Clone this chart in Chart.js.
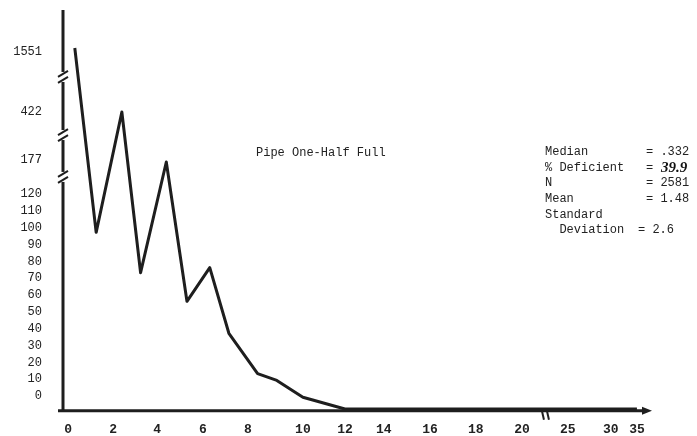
<!DOCTYPE html>
<html>
<head>
<meta charset="UTF-8">
<title>Pipe One-Half Full</title>
<script src="https://cdn.jsdelivr.net/npm/chart.js"></script>
<style>
  html, body { margin: 0; padding: 0; background: #fff; }
  #wrap { width: 697px; height: 436px; }
</style>
</head>
<body>
<div id="wrap"><canvas id="chart"></canvas></div>
<script>
// values
const xValues   = [0.3, 1.25, 2.4, 3.25, 4.4, 5.3, 6.3, 7.15, 8.35, 9.05, 10, 12, 14, 16, 18, 20, 25, 30, 35];
const frequency = [1551, 105, 422, 81, 177, 64, 84, 45, 21, 17, 7, 0, 0, 0, 0, 0, 0, 0, 0];

const xTickLabels = [0, 2, 4, 6, 8, 10, 12, 14, 16, 18, 20, 25, 30, 35];
const yTickLabels = [0, 10, 20, 30, 40, 50, 60, 70, 80, 90, 100, 110, 120, 177, 422, 1551];

const stats = [
  ['Median', '= .332'],
  ['% Deficient', '= '],
  ['N', '= 2581'],
  ['Mean', '= 1.48'],
  ['Standard', ''],
  ['  Deviation', '= 2.6']
];
const handNote = '39.9';

// the hand-drawn axes are not evenly spaced: map values onto them piecewise
const xAxisStops = [0, 2.0, 3.96, 6.0, 8.0, 10.44, 12.31, 14.04, 16.09, 18.13, 20.18, 22.22, 24.13, 25.29];
const yBreaks = [[120, 120], [177, 146.8], [422, 176.5], [1551, 214.5]];
const yBreakLabelStops = [148, 176.5, 212];

function piecewise(v, from, to) {
  if (v <= from[0]) return to[0];
  for (let i = 1; i < from.length; i++) {
    if (v <= from[i]) {
      const t = (v - from[i - 1]) / (from[i] - from[i - 1]);
      return to[i - 1] + t * (to[i] - to[i - 1]);
    }
  }
  return to[to.length - 1];
}
const xPos = v => piecewise(v, xTickLabels, xAxisStops);
function yPos(v) {
  if (v <= 120) return v;
  return piecewise(v, yBreaks.map(b => b[0]), yBreaks.map(b => b[1]));
}
// typed labels sit a little above their marks on the low part
function yLabelPos(v) {
  if (v <= 120) return v + 7.7;
  return yBreakLabelStops[yBreaks.findIndex(b => b[0] === v) - 1];
}

const points = xValues.map((x, i) => ({ x: xPos(x), y: yPos(frequency[i]) }));

const ink = '#1e1e1e';
const typeFont = '"Liberation Mono", "DejaVu Sans Mono", monospace';

const decor = {
  id: 'decor',
  afterDraw(chart) {
    const { ctx, chartArea: a } = chart;
    const xs = chart.scales.x, ys = chart.scales.y;
    ctx.save();
    ctx.strokeStyle = ink;
    ctx.fillStyle = ink;
    ctx.lineCap = 'butt';

    // y axis
    ctx.lineWidth = 3;
    ctx.beginPath();
    ctx.moveTo(a.left - 1, a.top);
    ctx.lineTo(a.left - 1, a.bottom + 1);
    ctx.stroke();

    // x axis with arrow
    ctx.beginPath();
    ctx.moveTo(a.left - 6, a.bottom);
    ctx.lineTo(a.right - 6, a.bottom);
    ctx.stroke();
    ctx.beginPath();
    ctx.moveTo(a.right, a.bottom);
    ctx.lineTo(a.right - 10, a.bottom - 4);
    ctx.lineTo(a.right - 10, a.bottom + 4);
    ctx.closePath();
    ctx.fill();

    // breaks on the y axis
    [197.3, 162.8, 137.9].forEach(u => {
      const y = ys.getPixelForValue(u);
      const x = a.left - 1;
      ctx.fillStyle = '#fff';
      ctx.fillRect(x - 3, y - 5, 6, 10);
      ctx.lineWidth = 2;
      [-3, 3].forEach(s => {
        ctx.beginPath();
        ctx.moveTo(x - 5, y + s + 3);
        ctx.lineTo(x + 5, y + s - 3);
        ctx.stroke();
      });
    });

    // break on the x axis
    const bx = xs.getPixelForValue(21.2);
    ctx.lineWidth = 2;
    [-3, 2].forEach(d => {
      ctx.beginPath();
      ctx.moveTo(bx + d, a.bottom);
      ctx.lineTo(bx + d + 2, a.bottom + 9);
      ctx.stroke();
    });

    // typed notes
    ctx.fillStyle = '#222';
    ctx.font = '12px ' + typeFont;
    ctx.textBaseline = 'middle';
    ctx.textAlign = 'left';
    ctx.fillText('Pipe One-Half Full', 256, 153);

    stats.forEach((row, i) => {
      const y = 152 + i * 15.6;
      ctx.fillText(row[0], 545, y);
      if (row[1]) ctx.fillText(row[1], i === 5 ? 638 : 646, y);
    });
    ctx.font = 'bold italic 15px "Liberation Serif", serif';
    ctx.fillStyle = '#111';
    ctx.fillText(handNote, 661, 168);
    ctx.restore();
  }
};

new Chart(document.getElementById('chart'), {
  type: 'line',
  data: {
    datasets: [{
      data: points,
      borderColor: ink,
      borderWidth: 3,
      pointRadius: 0,
      tension: 0,
      borderJoinStyle: 'round',
      fill: false
    }]
  },
  options: {
    responsive: true,
    maintainAspectRatio: false,
    animation: false,
    layout: { padding: { top: 10, right: 45, left: 0, bottom: 0 } },
    plugins: { legend: { display: false }, tooltip: { enabled: false } },
    scales: {
      x: {
        type: 'linear',
        min: -0.18,
        max: 25.96,
        grid: { display: false, drawTicks: false },
        border: { display: false },
        afterBuildTicks: s => { s.ticks = xTickLabels.map(v => ({ value: xPos(v) })); },
        afterFit: s => { s.height = 25.3; s.paddingLeft = 0; s.paddingRight = 0; },
        ticks: {
          autoSkip: false,
          maxRotation: 0,
          padding: 11,
          color: '#222',
          font: { family: typeFont, size: 13, weight: 'bold' },
          callback: (v, i) => xTickLabels[i]
        }
      },
      y: {
        type: 'linear',
        min: -1,
        max: 237.1,
        grid: { display: false, drawTicks: false },
        border: { display: false },
        afterBuildTicks: s => { s.ticks = yTickLabels.map(v => ({ value: yLabelPos(v) })); },
        afterFit: s => { s.width = 64; s.paddingTop = 0; s.paddingBottom = 0; },
        ticks: {
          autoSkip: false,
          padding: 22,
          color: '#222',
          font: { family: typeFont, size: 12 },
          callback: (v, i) => yTickLabels[i]
        }
      }
    }
  },
  plugins: [decor]
});
</script>
</body>
</html>
